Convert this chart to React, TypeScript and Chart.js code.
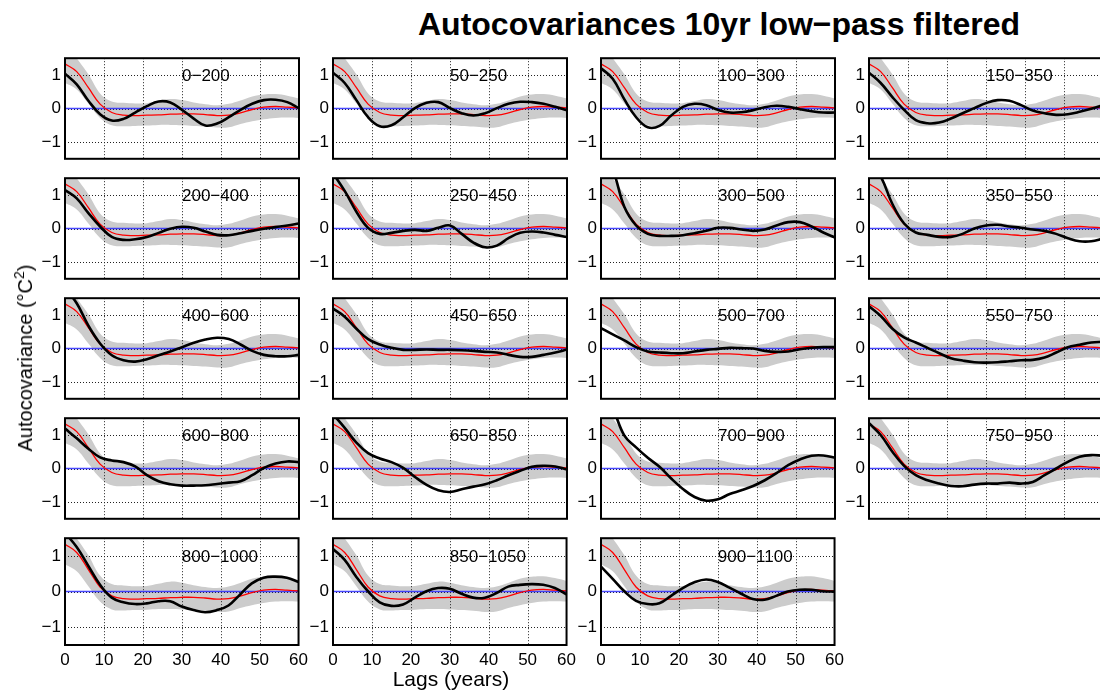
import React, { useEffect, useRef } from "react";
import { Chart, registerables } from "chart.js";

Chart.register(...registerables);

// Lag axis (years) shared by every panel
const lags = [0, 3, 6, 9, 12, 15, 18, 21, 24, 27, 30, 33, 36, 39, 42, 45, 48, 51, 54, 57, 60];

// Null-model autocovariance: mean (red) and spread envelope (grey)
const nullMean = [1.33, 1.1, 0.62, 0.13, -0.12, -0.2, -0.21, -0.2, -0.19, -0.17, -0.16, -0.16, -0.18, -0.21, -0.2, -0.13, -0.03, 0.04, 0.06, 0.04, 0.02];
const nullUpper = [1.95, 1.5, 1.02, 0.45, 0.21, 0.17, 0.15, 0.16, 0.22, 0.28, 0.25, 0.18, 0.13, 0.1, 0.14, 0.24, 0.36, 0.42, 0.43, 0.38, 0.3];
const nullLower = [0.77, 0.57, 0.15, -0.28, -0.5, -0.53, -0.52, -0.51, -0.49, -0.49, -0.5, -0.52, -0.54, -0.57, -0.56, -0.46, -0.38, -0.32, -0.28, -0.27, -0.28];

// Window labels (years)
const windows = [
  "0\u2212200", "50\u2212250", "100\u2212300", "150\u2212350",
  "200\u2212400", "250\u2212450", "300\u2212500", "350\u2212550",
  "400\u2212600", "450\u2212650", "500\u2212700", "550\u2212750",
  "600\u2212800", "650\u2212850", "700\u2212900", "750\u2212950",
  "800\u22121000", "850\u22121050", "900\u22121100",
];

// Observed autocovariance for each 200-year window (black)
const acv0 = [1.04, 0.72, 0.23, -0.17, -0.36, -0.31, -0.12, 0.07, 0.21, 0.18, -0.04, -0.3, -0.51, -0.45, -0.26, -0.04, 0.14, 0.25, 0.26, 0.19, 0.01];
const acv50 = [1.07, 0.76, 0.25, -0.26, -0.53, -0.5, -0.26, 0.01, 0.17, 0.19, 0.01, -0.14, -0.21, -0.14, 0.01, 0.14, 0.2, 0.19, 0.14, 0.05, -0.05];
const acv100 = [1.2, 0.89, 0.27, -0.26, -0.56, -0.52, -0.21, 0.05, 0.14, 0.1, -0.04, -0.12, -0.11, -0.05, 0.04, 0.08, 0.05, -0.02, -0.08, -0.12, -0.12];
const acv150 = [1.07, 0.76, 0.34, -0.04, -0.35, -0.44, -0.42, -0.3, -0.14, 0.01, 0.16, 0.25, 0.23, 0.1, -0.06, -0.14, -0.19, -0.17, -0.1, -0.01, 0.1];
const acv200 = [1.15, 0.9, 0.46, 0.06, -0.25, -0.34, -0.32, -0.25, -0.13, -0.01, 0.05, 0.02, -0.09, -0.19, -0.2, -0.14, -0.07, -0.01, 0.04, 0.09, 0.15];
const acv250 = [1.65, 1.12, 0.5, 0.02, -0.16, -0.13, -0.07, -0.04, -0.07, 0.02, 0.09, -0.16, -0.42, -0.56, -0.51, -0.29, -0.13, -0.09, -0.12, -0.19, -0.25];
const acv300 = [2.3, 1.75, 0.64, 0.09, -0.16, -0.22, -0.22, -0.2, -0.14, -0.07, 0.02, 0.02, -0.03, -0.07, -0.03, 0.09, 0.19, 0.19, 0.06, -0.12, -0.27];
const acv350 = [2.0, 1.55, 0.73, 0.15, -0.12, -0.19, -0.25, -0.25, -0.16, 0.0, 0.09, 0.11, 0.06, 0.02, -0.03, -0.07, -0.16, -0.29, -0.38, -0.38, -0.3];
const acv400 = [1.8, 1.35, 0.68, 0.15, -0.2, -0.35, -0.39, -0.32, -0.2, -0.09, 0.04, 0.17, 0.27, 0.32, 0.28, 0.12, -0.07, -0.19, -0.23, -0.23, -0.19];
const acv450 = [1.19, 0.95, 0.59, 0.28, 0.12, 0.02, -0.04, -0.04, -0.03, -0.04, -0.04, -0.05, -0.07, -0.1, -0.12, -0.19, -0.25, -0.25, -0.19, -0.12, -0.03];
const acv500 = [0.61, 0.42, 0.24, 0.04, -0.09, -0.12, -0.14, -0.14, -0.09, -0.04, -0.01, 0.02, 0.01, 0.0, -0.07, -0.1, -0.09, -0.02, 0.02, 0.04, 0.04];
const acv550 = [1.26, 0.97, 0.59, 0.33, 0.18, 0.02, -0.14, -0.29, -0.36, -0.41, -0.42, -0.41, -0.38, -0.35, -0.34, -0.27, -0.12, 0.04, 0.11, 0.18, 0.2];
const acv600 = [1.19, 0.9, 0.59, 0.33, 0.24, 0.19, 0.06, -0.2, -0.38, -0.47, -0.51, -0.51, -0.5, -0.46, -0.42, -0.38, -0.2, 0.02, 0.15, 0.21, 0.19];
const acv650 = [1.62, 1.21, 0.77, 0.46, 0.3, 0.19, 0.02, -0.25, -0.49, -0.65, -0.7, -0.62, -0.54, -0.47, -0.35, -0.2, -0.07, 0.05, 0.08, 0.06, -0.03];
const acv700 = [2.4, 1.8, 0.98, 0.63, 0.32, 0.05, -0.3, -0.61, -0.85, -0.96, -0.92, -0.76, -0.65, -0.52, -0.35, -0.14, 0.1, 0.27, 0.38, 0.39, 0.32];
const acv750 = [1.35, 1.0, 0.5, 0.08, -0.2, -0.35, -0.45, -0.52, -0.53, -0.48, -0.45, -0.45, -0.42, -0.45, -0.4, -0.2, 0.0, 0.2, 0.35, 0.4, 0.38];
const acv800 = [1.65, 1.25, 0.72, 0.19, -0.17, -0.3, -0.35, -0.33, -0.27, -0.27, -0.42, -0.52, -0.58, -0.52, -0.39, -0.08, 0.23, 0.39, 0.42, 0.39, 0.27];
const acv850 = [1.2, 0.89, 0.41, 0.01, -0.3, -0.4, -0.36, -0.17, 0.01, 0.1, 0.08, -0.06, -0.17, -0.17, -0.04, 0.14, 0.19, 0.21, 0.19, 0.1, -0.08];
const acv900 = [0.7, 0.36, 0.01, -0.26, -0.35, -0.33, -0.12, 0.1, 0.26, 0.34, 0.27, 0.11, -0.06, -0.21, -0.23, -0.12, 0.0, 0.05, 0.05, 0.01, 0.0];

const observed = [
  acv0, acv50, acv100, acv150, acv200, acv250, acv300, acv350, acv400, acv450,
  acv500, acv550, acv600, acv650, acv700, acv750, acv800, acv850, acv900,
];

// Axis ticks
const xTicks = [0, 10, 20, 30, 40, 50, 60];
const yTicks = [-1, 0, 1];
const xGrid = [10, 20, 30, 40, 50];

// Grid of small axes
const COL_LEFT = [65, 333, 601, 869];
const ROW_TOP = [52, 172, 292, 412, 532];
const PLOT_W = 234;
const PLOT_H = 113;
const PAD_L = 40;
const PAD_R = 14;
const PAD_T = 8;
const PAD_B = 8;
const XAXIS_H = 30;

const FONT = '"Liberation Sans", Arial, Helvetica, sans-serif';
const BAND = "rgb(204,204,204)";

const toPoints = (ys: number[]) => lags.map((x, i) => ({ x, y: ys[i] }));

const panelDecor = {
  id: "panelDecor",
  afterDatasetDraw(chart: any, args: any) {
    // dotted grid sits above the grey band but under the curves
    if (args.index !== 0) return;
    const { ctx, chartArea } = chart;
    const xs = chart.scales.x;
    const ys = chart.scales.y;
    ctx.save();
    ctx.strokeStyle = "#222";
    ctx.lineWidth = 1;
    ctx.setLineDash([1, 2]);
    for (const v of xGrid) {
      const px = Math.round(xs.getPixelForValue(v)) + 0.5;
      ctx.beginPath();
      ctx.moveTo(px, chartArea.top);
      ctx.lineTo(px, chartArea.bottom);
      ctx.stroke();
    }
    for (const v of yTicks) {
      const py = Math.round(ys.getPixelForValue(v)) + 0.5;
      ctx.beginPath();
      ctx.moveTo(chartArea.left, py);
      ctx.lineTo(chartArea.right, py);
      ctx.stroke();
    }
    ctx.restore();
  },
  afterDraw(chart: any, _args: any, opts: any) {
    const { ctx, chartArea } = chart;
    const xs = chart.scales.x;
    const ys = chart.scales.y;
    ctx.save();
    ctx.fillStyle = "#000";
    ctx.font = `17px ${FONT}`;
    ctx.textAlign = "left";
    ctx.textBaseline = "middle";
    ctx.fillText(opts.label, xs.getPixelForValue(30), ys.getPixelForValue(1) + 1);
    ctx.strokeStyle = "#000";
    ctx.lineWidth = 2;
    ctx.setLineDash([]);
    ctx.strokeRect(chartArea.left, chartArea.top, chartArea.right - chartArea.left, chartArea.bottom - chartArea.top);
    ctx.restore();
  },
};

function Panel({ index }: { index: number }) {
  const ref = useRef<HTMLCanvasElement | null>(null);
  const col = index % 4;
  const row = Math.floor(index / 4);
  const showX = row === 4;
  const width = PAD_L + PLOT_W + PAD_R;
  const height = PAD_T + PLOT_H + PAD_B + (showX ? XAXIS_H : 0);

  useEffect(() => {
    if (!ref.current) return;
    const line = { pointRadius: 0, tension: 0.4, clip: 0 };
    const chart = new Chart(ref.current, {
      type: "line",
      data: {
        datasets: [
          { ...line, data: toPoints(nullUpper), borderWidth: 0, fill: "+1", backgroundColor: BAND, order: 5 },
          { ...line, data: toPoints(nullLower), borderWidth: 0, fill: false, order: 4 },
          { ...line, data: [{ x: 0, y: 0 }, { x: 60, y: 0 }], borderColor: "rgba(40,40,255,0.85)", borderWidth: 1.5, fill: false, order: 3 },
          { ...line, data: toPoints(nullMean), borderColor: "#ff0000", borderWidth: 1.3, fill: false, order: 2 },
          { ...line, data: toPoints(observed[index]), borderColor: "#000", borderWidth: 2.6, fill: false, order: 1 },
        ],
      },
      options: {
        responsive: false,
        animation: false,
        devicePixelRatio: 1,
        events: [],
        layout: { autoPadding: false, padding: { left: 0, right: PAD_R, top: PAD_T, bottom: PAD_B } },
        plugins: {
          legend: { display: false },
          tooltip: { enabled: false },
          panelDecor: { label: windows[index] },
        } as any,
        scales: {
          x: {
            type: "linear",
            min: 0,
            max: 60,
            afterBuildTicks: (s: any) => {
              s.ticks = xTicks.map((v) => ({ value: v }));
            },
            ticks: { display: showX, color: "#000", font: { family: FONT, size: 17 }, padding: 5, maxRotation: 0, autoSkip: false },
            grid: { display: false, drawTicks: false },
            border: { display: false },
            afterFit: (s: any) => {
              s.height = showX ? XAXIS_H : 0;
            },
          },
          y: {
            type: "linear",
            min: -1.5,
            max: 1.5,
            afterBuildTicks: (s: any) => {
              s.ticks = yTicks.map((v) => ({ value: v }));
            },
            ticks: {
              color: "#000",
              font: { family: FONT, size: 17 },
              padding: 4,
              callback: (v: any) => (Number(v) < 0 ? "\u2212" + Math.abs(Number(v)) : String(v)),
            },
            grid: { display: false, drawTicks: false },
            border: { display: false },
            afterFit: (s: any) => {
              s.width = PAD_L;
            },
          },
        },
      },
      plugins: [panelDecor as any],
    });
    return () => chart.destroy();
  }, [index]);

  return (
    <canvas
      ref={ref}
      width={width}
      height={height}
      style={{
        position: "absolute",
        left: COL_LEFT[col] - PAD_L,
        top: ROW_TOP[row] - PAD_T,
        width,
        height,
      }}
    />
  );
}

export default function App() {
  return (
    <div
      style={{
        position: "fixed",
        left: 0,
        top: 0,
        width: 1100,
        height: 691,
        overflow: "hidden",
        background: "#fff",
        fontFamily: FONT,
        color: "#000",
      }}
    >
      <div
        style={{
          position: "absolute",
          left: 719,
          top: 8,
          transform: "translateX(-50%)",
          fontSize: 32,
          fontWeight: "bold",
          lineHeight: 1,
          whiteSpace: "nowrap",
        }}
      >
        Autocovariances 10yr low−pass filtered
      </div>
      {windows.map((_, i) => (
        <Panel key={i} index={i} />
      ))}
      <div
        style={{
          position: "absolute",
          left: 25,
          top: 358,
          transform: "translate(-50%, -50%) rotate(-90deg)",
          fontSize: 20,
          lineHeight: 1,
          whiteSpace: "nowrap",
        }}
      >
        Autocovariance (°C<sup style={{ fontSize: 14, verticalAlign: "super", lineHeight: 0 }}>2</sup>)
      </div>
      <div
        style={{
          position: "absolute",
          left: 451,
          top: 678,
          transform: "translate(-50%, -50%)",
          fontSize: 21,
          lineHeight: 1,
          whiteSpace: "nowrap",
        }}
      >
        Lags (years)
      </div>
    </div>
  );
}
